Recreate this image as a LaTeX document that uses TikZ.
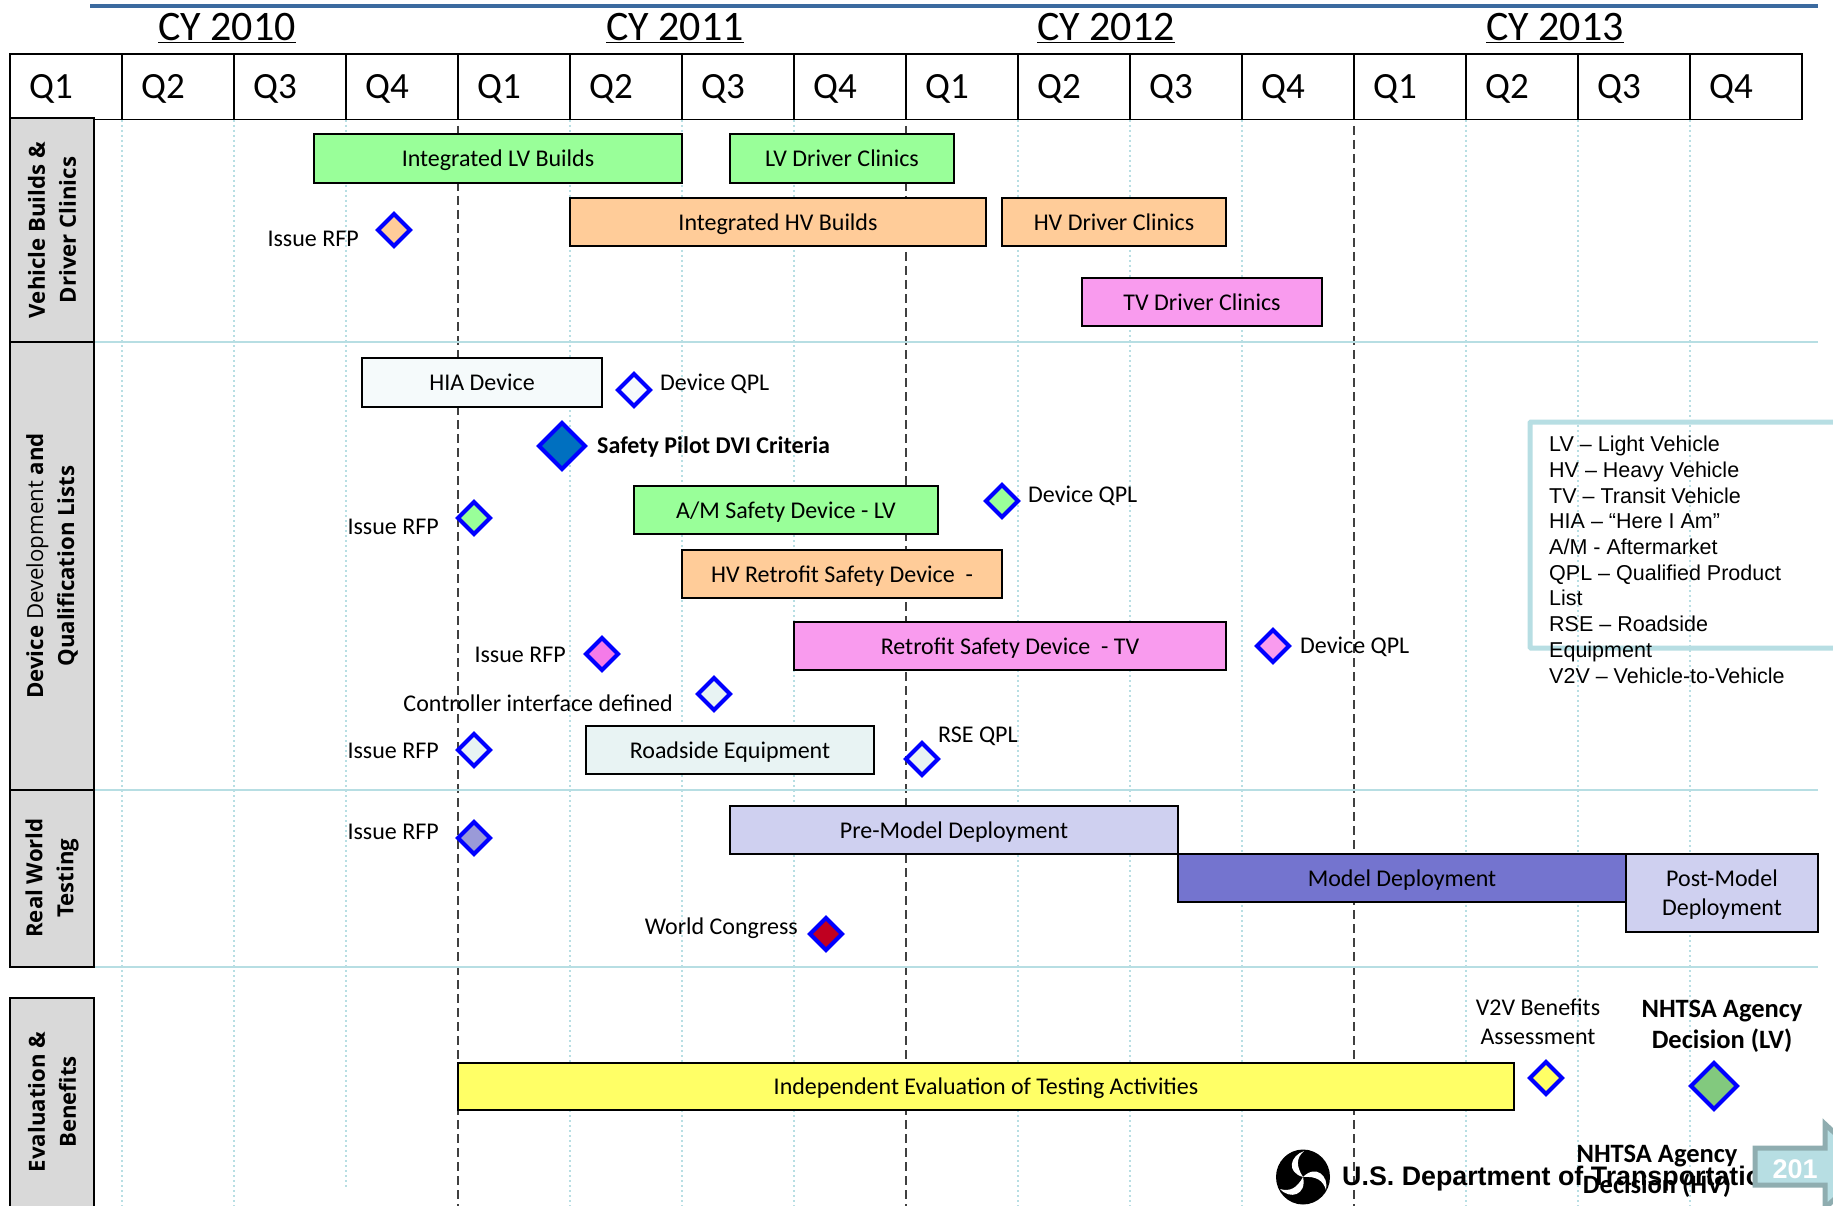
\documentclass[tikz,border=0pt]{standalone}
\usepackage{fontspec}
\setmainfont{Carlito}
\newfontfamily\arialf{Liberation Sans}
\newfontfamily\sidef{Open Sans}
\definecolor{teal1}{HTML}{B7DEE3}
\definecolor{teal2}{HTML}{8FADB0}
\definecolor{rulec}{HTML}{3B6A9F}
\definecolor{lvg}{HTML}{99FF99}
\definecolor{hvo}{HTML}{FFCC99}
\definecolor{tvp}{HTML}{F99BEE}
\definecolor{tvd}{HTML}{F47BE8}
\definecolor{pale1}{HTML}{F5FAFB}
\definecolor{pale2}{HTML}{E8F3F3}
\definecolor{lav}{HTML}{CFD0F0}
\definecolor{lavd}{HTML}{9A9AD8}
\definecolor{mdb}{HTML}{7474CF}
\definecolor{yel}{HTML}{FFFF66}
\definecolor{sideg}{HTML}{D9D9D9}
\definecolor{spblue}{HTML}{0070C0}
\definecolor{lvdec}{HTML}{82C97E}
\definecolor{wcred}{HTML}{C00020}
\tikzset{
 x=1pt,y=-1pt,
 px/.style={font=\fontsize{#1}{#1}\selectfont},
 bar/.style={draw=black,line width=1.6pt},
 bartext/.style={inner sep=0pt,text=black,font=\fontsize{24}{29}\selectfont,align=center},
 dia/.style={draw=blue,line width=4pt,fill=#1},
 lbl/.style={font=\fontsize{24}{29}\selectfont,inner sep=0pt,align=center},
 cy/.style={font=\fontsize{42}{42}\selectfont,inner sep=0pt},
 side/.style={draw=black,line width=2pt,fill=sideg},
 sidetext/.style={rotate=90,align=center,inner sep=0pt,font=\sidef\bfseries\fontsize{22.2}{31}\selectfont},
 dotq/.style={draw=teal1,line width=1.4pt,dash pattern=on 2pt off 3pt},
 dashy/.style={draw=black!75,line width=1.5pt,dash pattern=on 9pt off 5pt},
 sect/.style={draw=teal1,line width=1.8pt},
}
\newcommand{\bst}{\rule{0pt}{17pt}\rule[-6pt]{0pt}{6pt}}
\newcommand{\barbox}[7]{% name x1 y1 x2 y2 fill text
 \path[bar,fill=#6] (#2,#3) rectangle (#4,#5);
 \node[bartext] (#1) at ({(#2+#4)/2},{(#3+#5)/2+2.7}) {\bst #7};}
\newcommand{\dmd}[5]{% name x y half fill
 \coordinate (#1) at (#2,#3);
 \path[dia=#5] (#2-#4,#3) -- (#2,#3-#4) -- (#2+#4,#3) -- (#2,#3+#4) -- cycle;}
\begin{document}
\begin{tikzpicture}
\useasboundingbox (0,0) rectangle (1833,1206);
\fill[white] (0,0) rectangle (1833,1206);
% rule
\draw[rulec,line width=4pt] (90,6) -- (1818,6);
% year labels
\node[cy] (y0) at (227,28) {\underline{CY 2010}};
\node[cy] (y1) at (675,28) {\underline{CY 2011}};
\node[cy] (y2) at (1106,28) {\underline{CY 2012}};
\node[cy] (y3) at (1555,28) {\underline{CY 2013}};
% grid
\foreach \x in {122,234,570,682,794,1018,1130,1242,1466,1578,1690}{\draw[dotq] (\x,120) -- (\x,1206);}
\draw[dotq] (346,120) -- (346,1188);
\foreach \x in {458,906,1354}{\draw[dashy] (\x,126) -- (\x,1206);}
\foreach \y in {342,790,967}{\draw[sect] (94,\y) -- (1818,\y);}
% header
\foreach \i/\t in {0/Q1,1/Q2,2/Q3,3/Q4,4/Q1,5/Q2,6/Q3,7/Q4,8/Q1,9/Q2,10/Q3,11/Q4,12/Q1,13/Q2,14/Q3,15/Q4}{
 \draw[black,line width=1.8pt,fill=white] ({10+112*\i},54) rectangle ({122+112*\i},119.5);
 \node[px=37,inner sep=0pt] (q\i) at ({51+112*\i},89) {\t};
}
% side panels
\path[side] (10,118) rectangle (94,342);
\path[side] (10,342) rectangle (94,790);
\path[side] (10,790) rectangle (94,967);
\path[side] (10,998) rectangle (94,1215);
\node[sidetext] (s1) at (52,230) {Vehicle Builds \&\\Driver Clinics};
\node[sidetext] (s2) at (52,566) {Device {\mdseries Development} and\\Qualification Lists};
\node[sidetext] (s3) at (52,878) {Real World\\Testing};
\node[sidetext] (s4) at (52,1102) {Evaluation \&\\Benefits};
% bars
\barbox{b1}{314}{134}{682}{183}{lvg}{Integrated LV Builds}
\barbox{b2}{730}{134}{954}{183}{lvg}{LV Driver Clinics}
\barbox{b3}{570}{198}{986}{246}{hvo}{Integrated HV Builds}
\barbox{b4}{1002}{198}{1226}{246}{hvo}{HV Driver Clinics}
\barbox{b5}{1082}{278}{1322}{326}{tvp}{TV Driver Clinics}
\barbox{b6}{362}{358}{602}{407}{pale1}{HIA Device}
\barbox{b7}{634}{486}{938}{534}{lvg}{A/M Safety Device - LV}
\barbox{b8}{682}{550}{1002}{598}{hvo}{HV Retrofit Safety Device~~-}
\barbox{b9}{794}{622}{1226}{670}{tvp}{Retrofit Safety Device~~- TV}
\barbox{b10}{586}{726}{874}{774}{pale2}{Roadside Equipment}
\barbox{b11}{730}{806}{1178}{854}{lav}{Pre-Model Deployment}
\barbox{b12}{1178}{854}{1626}{902}{mdb}{Model Deployment}
\barbox{b13}{1626}{854}{1818}{932}{lav}{Post-Model\\\bst Deployment}
\barbox{b14}{458}{1063}{1514}{1110}{yel}{Independent Evaluation of Testing Activities}
% diamonds
\dmd{d1}{394}{230}{16}{hvo}
\dmd{d2}{634}{390}{16}{pale1}
\dmd{d3}{562}{446}{23}{spblue}
\dmd{d4}{474}{518}{16}{lvg}
\dmd{d5}{1002}{501}{16}{lvg}
\dmd{d6}{602}{654}{16}{tvd}
\dmd{d7}{1273}{646}{16}{tvp}
\dmd{d8}{714}{694}{16}{pale2}
\dmd{d9}{474}{750}{16}{pale2}
\dmd{d10}{922}{759}{16}{pale2}
\dmd{d11}{474}{838}{16}{lavd}
\dmd{d12}{826}{934}{16}{wcred}
\dmd{d13}{1546}{1078}{16}{yel}
\dmd{d14}{1714}{1086}{23}{lvdec}
% labels
\node[lbl,anchor=east] (l1) at (359,239) {Issue RFP};
\node[lbl,anchor=west] (l2) at (660,384) {Device QPL};
\node[lbl,anchor=west] (l3) at (597,447) {\textbf{Safety Pilot DVI Criteria}};
\node[lbl,anchor=east] (l4) at (439,527) {Issue RFP};
\node[lbl,anchor=west] (l5) at (1028,496) {Device QPL};
\node[lbl,anchor=east] (l6) at (566,655) {Issue RFP};
\node[lbl,anchor=west] (l7) at (1300,647) {Device QPL};
\node[lbl,anchor=east] (l8) at (673,703) {Controller interface defined};
\node[lbl,anchor=east] (l9) at (439,751) {Issue RFP};
\node[lbl,anchor=west] (l10) at (938,736) {RSE QPL};
\node[lbl,anchor=east] (l11) at (439,832) {Issue RFP};
\node[lbl,anchor=east] (l12) at (798,928) {World Congress};
\node[lbl] (l13) at (1538,1022) {V2V Benefits\\Assessment};
\node[lbl,font=\bfseries\fontsize{26.5}{31}\selectfont] (l14) at (1722,1026) {NHTSA Agency\\Decision (LV)};
% legend
\draw[teal1,line width=5pt,rounded corners=1pt] (1530,422) rectangle (1845,648);
\node[anchor=north west,inner sep=0pt,align=left,font=\arialf\fontsize{21.5}{25.7}\selectfont] (leg) at (1549,436) {LV – Light Vehicle\\HV – Heavy Vehicle\\TV – Transit Vehicle\\HIA – “Here I Am”\\A/M - Aftermarket\\QPL – Qualified Product\\List\\RSE – Roadside\\Equipment\\V2V – Vehicle-to-Vehicle};
% logo
\fill[black] (1303,1177) ellipse (27 and 27.5);
\fill[white] (1303,1177) .. controls (1296,1166) and (1296,1158) .. (1304,1151) .. controls (1290,1156) and (1286,1172) .. (1303,1177) -- cycle;
\fill[white] (1303,1177) .. controls (1316,1176) and (1323,1180) .. (1326,1190) .. controls (1329,1176) and (1316,1164) .. (1303,1177) -- cycle;
\fill[white] (1303,1177) .. controls (1297,1188) and (1290,1192) .. (1280,1189) .. controls (1290,1200) and (1307,1195) .. (1303,1177) -- cycle;
% footer
\node[anchor=west,inner sep=0pt,font=\arialf\bfseries\fontsize{26.8}{27}\selectfont] (dot) at (1342,1179) {U.S. Department of Transportation};
\node[lbl,font=\bfseries\fontsize{26.5}{31}\selectfont] (hv) at (1657,1171) {NHTSA Agency\\Decision (HV)};
\draw[fill=teal1,draw=teal2,line width=5pt,miter limit=10] (1755,1148) -- (1825,1148) -- (1825,1124) -- (1870,1166) -- (1825,1208) -- (1825,1185) -- (1755,1185) -- cycle;
\node[inner sep=0pt,text=white,font=\arialf\bfseries\fontsize{27}{27}\selectfont] (pg) at (1795,1169) {201};
\end{tikzpicture}
\end{document}
